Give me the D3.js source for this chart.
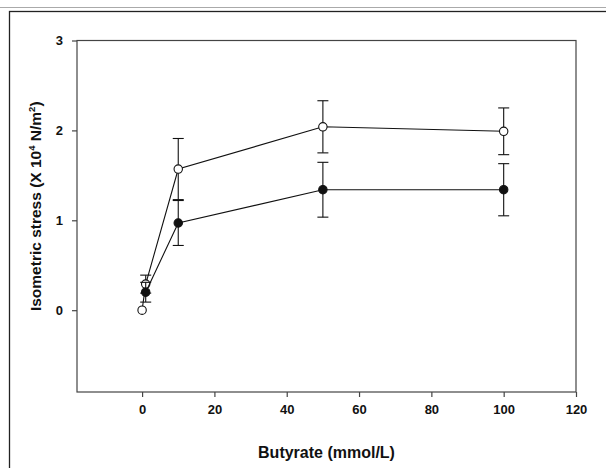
<!DOCTYPE html>
<html>
<head>
<meta charset="utf-8">
<script src="https://cdn.jsdelivr.net/npm/d3@7"></script>
<style>
  body { margin: 0; background: #fff; }
  text { font-family: "Liberation Sans", Arial, sans-serif; font-weight: bold; fill: #111; }
</style>
</head>
<body>
<div id="chart"></div>
<script>
const width = 606;
const height = 468;

// données
const butyrate = [0, 1, 10, 50, 100];
const openValues = [0.0, 0.29, 1.57, 2.04, 1.99];
const openErrors = [0, 0.10, 0.34, 0.29, 0.26];
const filledX = [1, 10, 50, 100];
const filledValues = [0.20, 0.97, 1.34, 1.34];
const filledErrors = [0.11, 0.25, 0.305, 0.29];
const xTicks = [0, 20, 40, 60, 80, 100, 120];
const yTicks = [0, 1, 2, 3];

const margin = {top: 40.5, right: 30, bottom: 76, left: 77};

const x = d3.scaleLinear().domain([-18, 120]).range([margin.left, width - margin.right]);
const y = d3.scaleLinear().domain([-0.91, 3]).range([height - margin.bottom, margin.top]);

const svg = d3.create("svg")
    .attr("width", width)
    .attr("height", height);

// cadre extérieur de la figure
svg.append("line")
    .attr("x1", 0).attr("x2", width).attr("y1", 7.5).attr("y2", 7.5)
    .attr("stroke", "#aaa").attr("stroke-width", 1);
svg.append("rect")
    .attr("x", 9.5).attr("y", 11.5)
    .attr("width", width).attr("height", height)
    .attr("fill", "none").attr("stroke", "#222").attr("stroke-width", 1.3);

// boîte du graphique
svg.append("rect")
    .attr("x", x.range()[0]).attr("y", y.range()[1])
    .attr("width", x.range()[1] - x.range()[0])
    .attr("height", y.range()[0] - y.range()[1])
    .attr("fill", "none").attr("stroke", "#444").attr("stroke-width", 1.2);

const xAxis = svg.append("g")
    .attr("transform", `translate(0,${y.range()[0]})`)
    .call(d3.axisBottom(x).tickValues(xTicks).tickFormat(d3.format("d")).tickSize(5).tickPadding(8));
const yAxis = svg.append("g")
    .attr("transform", `translate(${x.range()[0]},0)`)
    .call(d3.axisLeft(y).tickValues(yTicks).tickFormat(d3.format("d")).tickSize(5).tickPadding(9));

[xAxis, yAxis].forEach(g => {
  g.select(".domain").remove();
  g.selectAll(".tick line").attr("stroke", "#444").attr("stroke-width", 1.2);
  g.selectAll(".tick text").attr("font-size", 13).attr("fill", "#111");
});

// titres des axes
svg.append("text")
    .attr("x", (x.range()[0] + x.range()[1]) / 2)
    .attr("y", 457.5)
    .attr("text-anchor", "middle")
    .attr("font-size", 16)
    .text("Butyrate (mmol/L)");

const yTitle = svg.append("text")
    .attr("transform", `translate(41,${(y.range()[0] + y.range()[1]) / 2 - 10}) rotate(-90)`)
    .attr("text-anchor", "middle")
    .attr("font-size", 15.5);
yTitle.append("tspan").text("Isometric stress (X 10");
yTitle.append("tspan").attr("font-size", 9.5).attr("dy", -6).text("4");
yTitle.append("tspan").attr("dy", 6).text(" N/m");
yTitle.append("tspan").attr("font-size", 9.5).attr("dy", -6).text("2");
yTitle.append("tspan").attr("dy", 6).text(")");

const openData = butyrate.map((d, i) => ({x: d, v: openValues[i], e: openErrors[i]}));
const filledData = filledX.map((d, i) => ({x: d, v: filledValues[i], e: filledErrors[i]}));

const line = d3.line().x(d => x(d.x)).y(d => y(d.v));
const cap = 5.5;

function drawSeries(data) {
  const g = svg.append("g");
  g.append("path")
      .datum(data)
      .attr("d", line)
      .attr("fill", "none")
      .attr("stroke", "#111")
      .attr("stroke-width", 1.1);

  const bars = g.selectAll("g.err")
    .data(data.filter(d => d.e > 0))
    .join("g")
      .attr("stroke", "#111")
      .attr("stroke-width", 1.1);
  bars.append("line")
      .attr("x1", d => x(d.x)).attr("x2", d => x(d.x))
      .attr("y1", d => y(d.v - d.e)).attr("y2", d => y(d.v + d.e));
  bars.append("line")
      .attr("x1", d => x(d.x) - cap).attr("x2", d => x(d.x) + cap)
      .attr("y1", d => y(d.v + d.e)).attr("y2", d => y(d.v + d.e));
  bars.append("line")
      .attr("x1", d => x(d.x) - cap).attr("x2", d => x(d.x) + cap)
      .attr("y1", d => y(d.v - d.e)).attr("y2", d => y(d.v - d.e));
  return g;
}

const gOpen = drawSeries(openData);
const gFilled = drawSeries(filledData);

gOpen.selectAll("circle")
  .data(openData)
  .join("circle")
    .attr("cx", d => x(d.x)).attr("cy", d => y(d.v))
    .attr("r", 4.2)
    .attr("fill", "#fff").attr("stroke", "#111").attr("stroke-width", 1.1);

gFilled.selectAll("circle")
  .data(filledData)
  .join("circle")
    .attr("cx", d => x(d.x)).attr("cy", d => y(d.v))
    .attr("r", 4.2)
    .attr("fill", "#111").attr("stroke", "#111").attr("stroke-width", 1.1);

document.getElementById("chart").appendChild(svg.node());
</script>
</body>
</html>
